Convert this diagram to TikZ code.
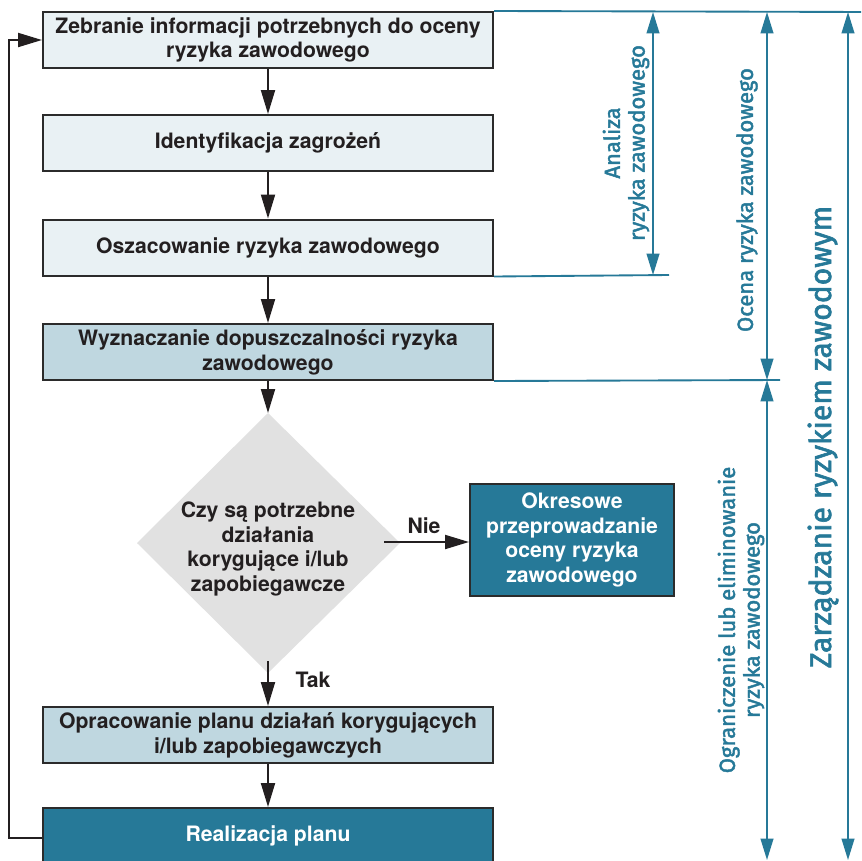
\documentclass[tikz,border=0pt]{standalone}
\usepackage{fontspec}
\setmainfont{TeX Gyre Heros}
\newfontfamily\labelfont[FakeBold=2]{Fira Sans}
\usetikzlibrary{arrows.meta}
\definecolor{tealc}{HTML}{267998}
\definecolor{lightfill}{HTML}{E9F1F4}
\definecolor{midfill}{HTML}{BFD7E0}
\definecolor{diagray}{HTML}{E1E1E1}
\definecolor{darkline}{HTML}{2B2B2B}
\definecolor{textdark}{HTML}{231F20}
\tikzset{
  boxbase/.style={draw=darkline, line width=1.5pt, minimum width=337.5pt, minimum height=42pt,
    inner sep=2pt, align=center, font=\fontsize{15.9}{18.6}\selectfont\bfseries},
  lightbox/.style={boxbase, fill=lightfill, text=textdark},
  midbox/.style={boxbase, fill=midfill, text=textdark},
  tealbox/.style={boxbase, fill=tealc, text=white},
  flow/.style={draw=textdark, line width=1.5pt, -{Triangle[length=18pt,width=10.5pt]}},
  tealline/.style={draw=tealc, line width=1.4pt},
  tealarrow/.style={draw=tealc, line width=1.4pt, {Triangle[length=16pt,width=9.5pt]}-{Triangle[length=16pt,width=9.5pt]}},
  sidelabel/.style={rotate=90, text=tealc, align=center, font=\labelfont\fontsize{16.5}{18.5}\selectfont},
  yesno/.style={text=textdark, font=\fontsize{15.9}{18}\selectfont\bfseries},
}
\begin{document}
\begin{tikzpicture}[x=0.75pt, y=-0.75pt]
\useasboundingbox (0,0) rectangle (861,861);
\clip (0,0) rectangle (861,861);
\fill[white] (0,0) rectangle (861,861);

% boxes
\node[lightbox] (b1) at (268,40) {Zebranie informacji potrzebnych do oceny\\ryzyka zawodowego};
\node[lightbox] (b2) at (268,143) {Identyfikacja zagrożeń};
\node[lightbox] (b3) at (268,247.5) {Oszacowanie ryzyka zawodowego};
\node[midbox] (b4) at (268,352) {Wyznaczanie dopuszczalności ryzyka\\zawodowego};
\node[midbox] (b5) at (268,735) {Opracowanie planu działań korygujących\\i/lub zapobiegawczych};
\node[tealbox] (b6) at (268,836) {Realizacja planu};
\node[tealbox, minimum width=153pt, minimum height=84pt, inner sep=1pt] (ok) at (572,540)
  {Okresowe\\przeprowadzanie\\oceny ryzyka\\zawodowego};

% decision diamond
\fill[diagray] (268,413) -- (400,543) -- (268,673) -- (137,543) -- cycle;
\node[text=textdark, align=center, font=\fontsize{15.9}{18.3}\selectfont\bfseries] (dec) at (268,549)
  {Czy są potrzebne\\działania\\korygujące i/lub\\zapobiegawcze};
\coordinate (decT) at (268,413);
\coordinate (decR) at (384,542);
\coordinate (decB) at (268,661);

% flow arrows
\draw[flow] (b1.south) -- (b2.north);
\draw[flow] (b2.south) -- (b3.north);
\draw[flow] (b3.south) -- (b4.north);
\draw[flow] (b4.south) -- (decT);
\draw[flow] (decR) -- (ok.west |- decR);
\draw[flow] (decB) -- (b5.north);
\draw[flow] (b5.south) -- (b6.north);
\coordinate (fb) at (9,838);
\draw[flow] (b6.west |- fb) -- (fb) |- (b1.west);

\node[yesno] (nie) at (424,526) {Nie};
\node[yesno] (tak) at (313,680) {Tak};

% right side brackets
\coordinate (rEnd) at (870,12);
\coordinate (h3) at (669,275);
\coordinate (h4) at (780,380);
\draw[tealline] (b1.north east) -- (rEnd);
\draw[tealline] (b3.south east) -- (h3);
\draw[tealline] (b4.south east) -- (h4);

\coordinate (a1t) at (653,12);
\coordinate (a1b) at (653,275);
\coordinate (a2t) at (767,12);
\coordinate (a2b) at (767,380);
\coordinate (a3t) at (767,380);
\coordinate (a3b) at (767,860);
\coordinate (a4t) at (848,12);
\coordinate (a4b) at (848,860);
\draw[tealarrow] (a1t) -- (a1b);
\draw[tealarrow] (a2t) -- (a2b);
\draw[tealarrow] (a3t) -- (a3b);
\draw[tealarrow] (a4t) -- (a4b);

\node[sidelabel] (l1) at (626,143) {Analiza\\ryzyka zawodowego};
\node[sidelabel] (l2) at (747,200) {Ocena ryzyka zawodowego};
\node[sidelabel] (l3) at (741,620) {Ograniczenie lub eliminowanie\\ryzyka zawodowego};
\node[sidelabel, font=\labelfont\fontsize{22.5}{26}\selectfont] (l4) at (823,437) {Zarządzanie ryzykiem zawodowym};
\end{tikzpicture}
\end{document}
